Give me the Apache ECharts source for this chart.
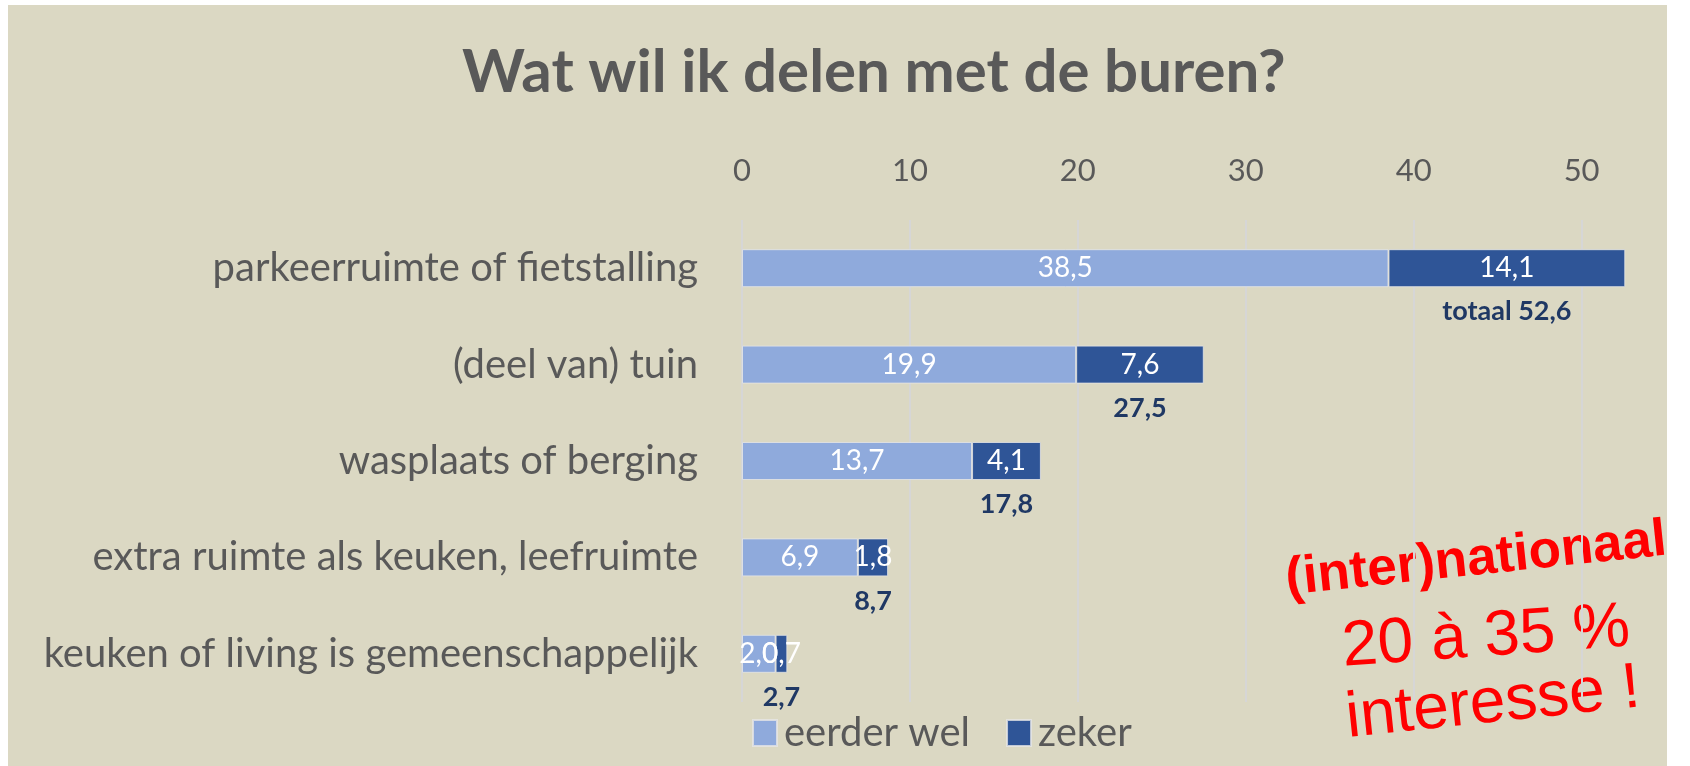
<!DOCTYPE html>
<html>
<head>
<meta charset="utf-8">
<script src="https://cdn.jsdelivr.net/npm/echarts@6/dist/echarts.min.js"></script>
<style>
  html, body { margin: 0; padding: 0; background: #ffffff; }
  #bg { position: absolute; left: 8px; top: 5px; width: 1659px; height: 761px; background: #dbd8c3; }
  #chart { position: absolute; left: 0; top: 0; width: 1690px; height: 766px; }
</style>
</head>
<body>
<div id="bg"></div>
<div id="chart"></div>
<script>
const categories = [
  'parkeerruimte of fietstalling',
  '(deel van) tuin',
  'wasplaats of berging',
  'extra ruimte als keuken, leefruimte',
  'keuken of living is gemeenschappelijk'
];
const eerderWel = [38.5, 19.9, 13.7, 6.9, 2.0];
const zeker = [14.1, 7.6, 4.1, 1.8, 0.7];
const xTicks = [0, 10, 20, 30, 40, 50];

const fmt = v => v.toFixed(1).replace('.', ',');
const FONT = 'Lato';

// totaal onder elke balk
const totalLabel = p => {
  const total = eerderWel[p.dataIndex] + zeker[p.dataIndex];
  return (p.dataIndex === 0 ? 'totaal ' : '') + fmt(total);
};

let chart = echarts.init(document.getElementById('chart'));

chart.setOption({
  title: {
    text: 'Wat wil ik delen met de buren?',
    left: 457,
    top: 38,
    textStyle: {
      fontFamily: FONT,
      fontWeight: 'bold',
      fontSize: 60,
      color: '#595959'
    }
  },
  legend: {
    left: 747,
    top: 708,
    itemWidth: 24,
    itemHeight: 26,
    itemGap: 36,
    icon: 'rect',
    textStyle: { fontFamily: FONT, fontSize: 40, color: '#595959', padding: [0, 0, 0, 2] },
    data: ['eerder wel', 'zeker']
  },
  grid: {
    left: 742,
    top: 220,
    right: 58,
    bottom: 64
  },
  xAxis: {
    type: 'value',
    position: 'top',
    min: xTicks[0],
    max: 53,
    interval: xTicks[1] - xTicks[0],
    axisLine: { show: false },
    axisTick: { show: false },
    axisLabel: {
      fontFamily: FONT,
      fontSize: 31,
      color: '#595959',
      margin: 34,
      showMaxLabel: false
    },
    splitLine: {
      show: true,
      showMaxLine: false,
      lineStyle: { color: '#d6d6d6', width: 2 }
    }
  },
  yAxis: {
    type: 'category',
    inverse: true,
    data: categories,
    axisLine: { show: false },
    axisTick: { show: false },
    axisLabel: {
      fontFamily: FONT,
      fontSize: 40,
      color: '#595959',
      margin: 44
    }
  },
  series: [
    {
      name: 'eerder wel',
      type: 'bar',
      stack: 'totaal',
      barWidth: 38,
      data: eerderWel,
      itemStyle: { color: '#8faadc', borderColor: 'rgba(230,230,230,0.8)', borderWidth: 1 },
      label: {
        show: true,
        position: 'inside',
        color: '#ffffff',
        fontFamily: FONT,
        fontSize: 28,
        formatter: p => fmt(p.value)
      }
    },
    {
      name: 'zeker',
      type: 'bar',
      stack: 'totaal',
      barWidth: 38,
      data: zeker,
      itemStyle: { color: '#2f5597', borderColor: 'rgba(230,230,230,0.8)', borderWidth: 1 },
      label: {
        show: true,
        position: 'inside',
        color: '#ffffff',
        fontFamily: FONT,
        fontSize: 28,
        formatter: p => fmt(p.value)
      }
    },
    {
      // onzichtbare basis zodat het totaal-label onder het donkere deel staat
      name: 'basis',
      type: 'bar',
      stack: 'label',
      barWidth: 38,
      data: eerderWel,
      itemStyle: { color: 'transparent' },
      silent: true,
      z: 1
    },
    {
      name: 'totaal',
      type: 'bar',
      stack: 'label',
      barWidth: 38,
      barGap: '-100%',
      data: zeker,
      itemStyle: { color: 'transparent' },
      silent: true,
      z: 1,
      label: {
        show: true,
        position: 'bottom',
        distance: 11,
        color: '#1f3864',
        fontFamily: FONT,
        fontWeight: 'bold',
        fontSize: 27,
        formatter: totalLabel
      }
    }
  ],
  graphic: [
    {
      type: 'text',
      x: 1476,
      y: 560,
      rotation: 6 * Math.PI / 180,
      style: {
        text: '(inter)nationaal',
        fill: '#ff0000',
        font: 'bold 53px "Liberation Sans", Arial, sans-serif',
        align: 'center',
        verticalAlign: 'middle'
      }
    },
    {
      type: 'text',
      x: 1486,
      y: 638,
      rotation: 4 * Math.PI / 180,
      style: {
        text: '20 à 35 %',
        fill: '#ff0000',
        font: '64px "Liberation Sans", Arial, sans-serif',
        align: 'center',
        verticalAlign: 'middle'
      }
    },
    {
      type: 'text',
      x: 1493,
      y: 704,
      rotation: 6 * Math.PI / 180,
      style: {
        text: 'interesse !',
        fill: '#ff0000',
        font: '64px "Liberation Sans", Arial, sans-serif',
        align: 'center',
        verticalAlign: 'middle'
      }
    }
  ]
});
</script>
</body>
</html>
